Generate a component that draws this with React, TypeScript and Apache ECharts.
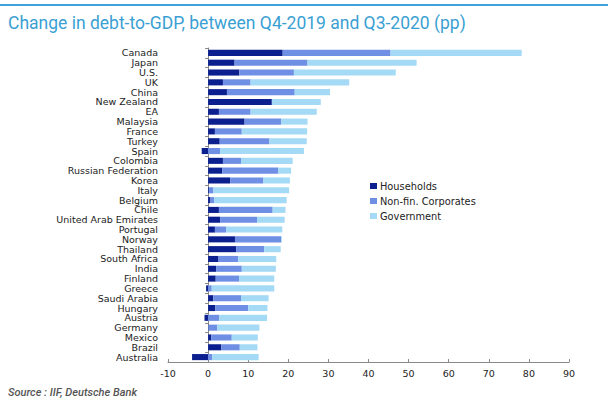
import React, { useEffect, useRef } from "react";
import * as echarts from "echarts";

const countries = [
  "Canada", "Japan", "U.S.", "UK", "China", "New Zealand", "EA", "Malaysia", "France", "Turkey",
  "Spain", "Colombia", "Russian Federation", "Korea", "Italy", "Belgium", "Chile",
  "United Arab Emirates", "Portugal", "Norway", "Thailand", "South Africa", "India", "Finland",
  "Greece", "Saudi Arabia", "Hungary", "Austria", "Germany", "Mexico", "Brazil", "Australia",
];

const households = [
  18.6, 6.6, 7.8, 3.7, 4.7, 15.9, 2.7, 9.1, 1.7, 2.9,
  -1.6, 3.7, 3.5, 5.5, 0.2, 0.6, 2.7,
  3.0, 1.7, 6.7, 7.0, 2.6, 2.0, 1.9,
  -0.5, 1.3, 1.8, -0.9, 0.1, 0.8, 3.3, -4.0,
];

const nonFinCorporates = [
  26.9, 18.2, 13.6, 6.9, 16.9, 0.0, 7.9, 9.1, 6.7, 12.4,
  3.0, 4.5, 14.0, 8.3, 1.1, 0.9, 13.4,
  9.2, 2.8, 11.5, 7.0, 4.9, 6.4, 5.8,
  0.9, 6.9, 8.2, 2.8, 2.2, 5.1, 4.6, 1.0,
];

const government = [
  32.7, 27.2, 25.4, 24.6, 8.8, 12.2, 16.5, 6.6, 16.3, 9.3,
  20.9, 12.9, 3.2, 6.6, 18.9, 18.1, 3.2,
  6.9, 14.0, 0.2, 4.1, 9.5, 8.5, 8.8,
  15.6, 6.9, 4.8, 11.9, 10.5, 6.5, 4.4, 11.6,
];

const xTicks = { min: -10, max: 90, interval: 10 };

const seriesNames = ["Households", "Non-fin. Corporates", "Government"];
const seriesColors = ["#0c1f8e", "#6f8fe4", "#a5daf6"];

export default function App() {
  const ref = useRef<HTMLDivElement>(null);

  useEffect(() => {
    if (!ref.current) return;
    const chart = echarts.init(ref.current, undefined, { renderer: "svg" });
    const data = [households, nonFinCorporates, government];
    chart.setOption({
      animation: false,
      backgroundColor: "#ffffff",
      textStyle: { fontFamily: "DejaVu Sans, Liberation Sans, sans-serif" },
      graphic: [
        {
          type: "rect",
          left: 0,
          top: 4,
          shape: { width: 608, height: 2 },
          style: { fill: "#3ea3d8" },
        },
        {
          type: "text",
          left: 8,
          top: 14,
          style: {
            text: "Change in debt-to-GDP, between Q4-2019 and Q3-2020 (pp)",
            fill: "#3a9fd3",
            fontSize: 17.5,
            fontFamily: "Roboto, Liberation Sans, sans-serif",
          },
        },
        {
          type: "text",
          left: 8,
          top: 387,
          style: {
            text: "Source : IIF, Deutsche Bank",
            fill: "#555555",
            fontSize: 11,
            fontStyle: "italic",
            fontWeight: 500,
            fontFamily: "Roboto, Liberation Sans, sans-serif",
          },
        },
      ],
      legend: {
        orient: "vertical",
        left: 370,
        top: 181,
        padding: 0,
        itemWidth: 7,
        itemHeight: 6,
        itemGap: 5,
        icon: "rect",
        data: seriesNames,
        textStyle: { fontSize: 9.8, color: "#222", padding: [0, 0, 0, -2] },
      },
      grid: { left: 168, right: 39, top: 48, bottom: 49 },
      xAxis: {
        type: "value",
        min: xTicks.min,
        max: xTicks.max,
        interval: xTicks.interval,
        axisLine: { show: true, lineStyle: { color: "#888", width: 1 } },
        axisTick: { show: true, inside: true, length: 3, lineStyle: { color: "#888" } },
        axisLabel: { fontSize: 9.5, color: "#222", margin: 6 },
        splitLine: { show: false },
      },
      yAxis: {
        type: "category",
        inverse: true,
        data: countries,
        axisLine: { show: true, onZero: true, lineStyle: { color: "#888", width: 1 } },
        axisTick: { show: true, length: 3, lineStyle: { color: "#888" } },
        axisLabel: { fontSize: 9.5, color: "#222", margin: 10, interval: 0, lineHeight: 9.5 },
      },
      series: seriesNames.map((name, i) => ({
        name,
        type: "bar",
        stack: "total",
        barWidth: "62%",
        itemStyle: { color: seriesColors[i] },
        data: data[i],
      })),
    });
    return () => chart.dispose();
  }, []);

  return (
    <div
      ref={ref}
      style={{ position: "fixed", left: 0, top: 0, width: 608, height: 411 }}
    />
  );
}
